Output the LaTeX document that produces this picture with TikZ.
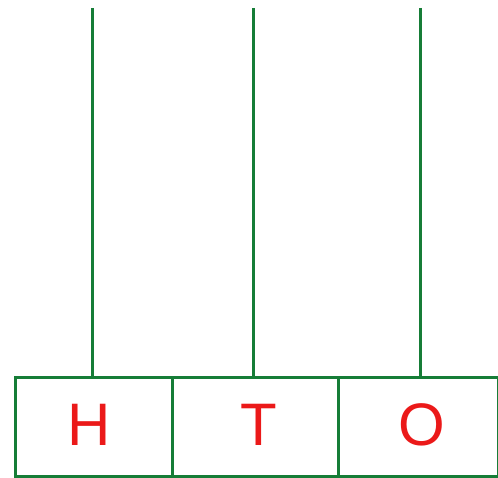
\documentclass[tikz,border=0pt]{standalone}
\usepackage{fontspec}
\setmainfont{Liberation Sans}
\definecolor{rodgreen}{RGB}{22,125,55}
\definecolor{labred}{RGB}{235,25,25}
\begin{document}
\begin{tikzpicture}[x=1pt,y=-1pt,
  cell/.style={draw=rodgreen,line width=3pt,rectangle,minimum height=99pt,inner sep=0pt,anchor=north west,
    font=\fontsize{60}{60}\selectfont,text=labred},
  rod/.style={draw=rodgreen,line width=3pt}]
\useasboundingbox (0,0) rectangle (498,478);
\node[cell,minimum width=157pt] (h) at (13.5,375.5) {};
\node[cell,minimum width=166pt] (t) at (170.5,375.5) {};
\node[cell,minimum width=160pt] (o) at (336.5,375.5) {};
\node[text=labred,font=\fontsize{60}{60}\selectfont,inner sep=0pt] (hl) at (89,425) {H};
\node[text=labred,font=\fontsize{60}{60}\selectfont,inner sep=0pt] (tl) at (259,425) {T};
\node[text=labred,font=\fontsize{60}{60}\selectfont,inner sep=0pt] (ol) at (422,425) {O};
\coordinate (r1) at (92.5,8);
\coordinate (r2) at (253.5,8);
\coordinate (r3) at (420,8);
\draw[rod] (r1) -- (r1 |- h.north);
\draw[rod] (r2) -- (r2 |- t.north);
\draw[rod] (r3) -- (r3 |- o.north);
\end{tikzpicture}
\end{document}
